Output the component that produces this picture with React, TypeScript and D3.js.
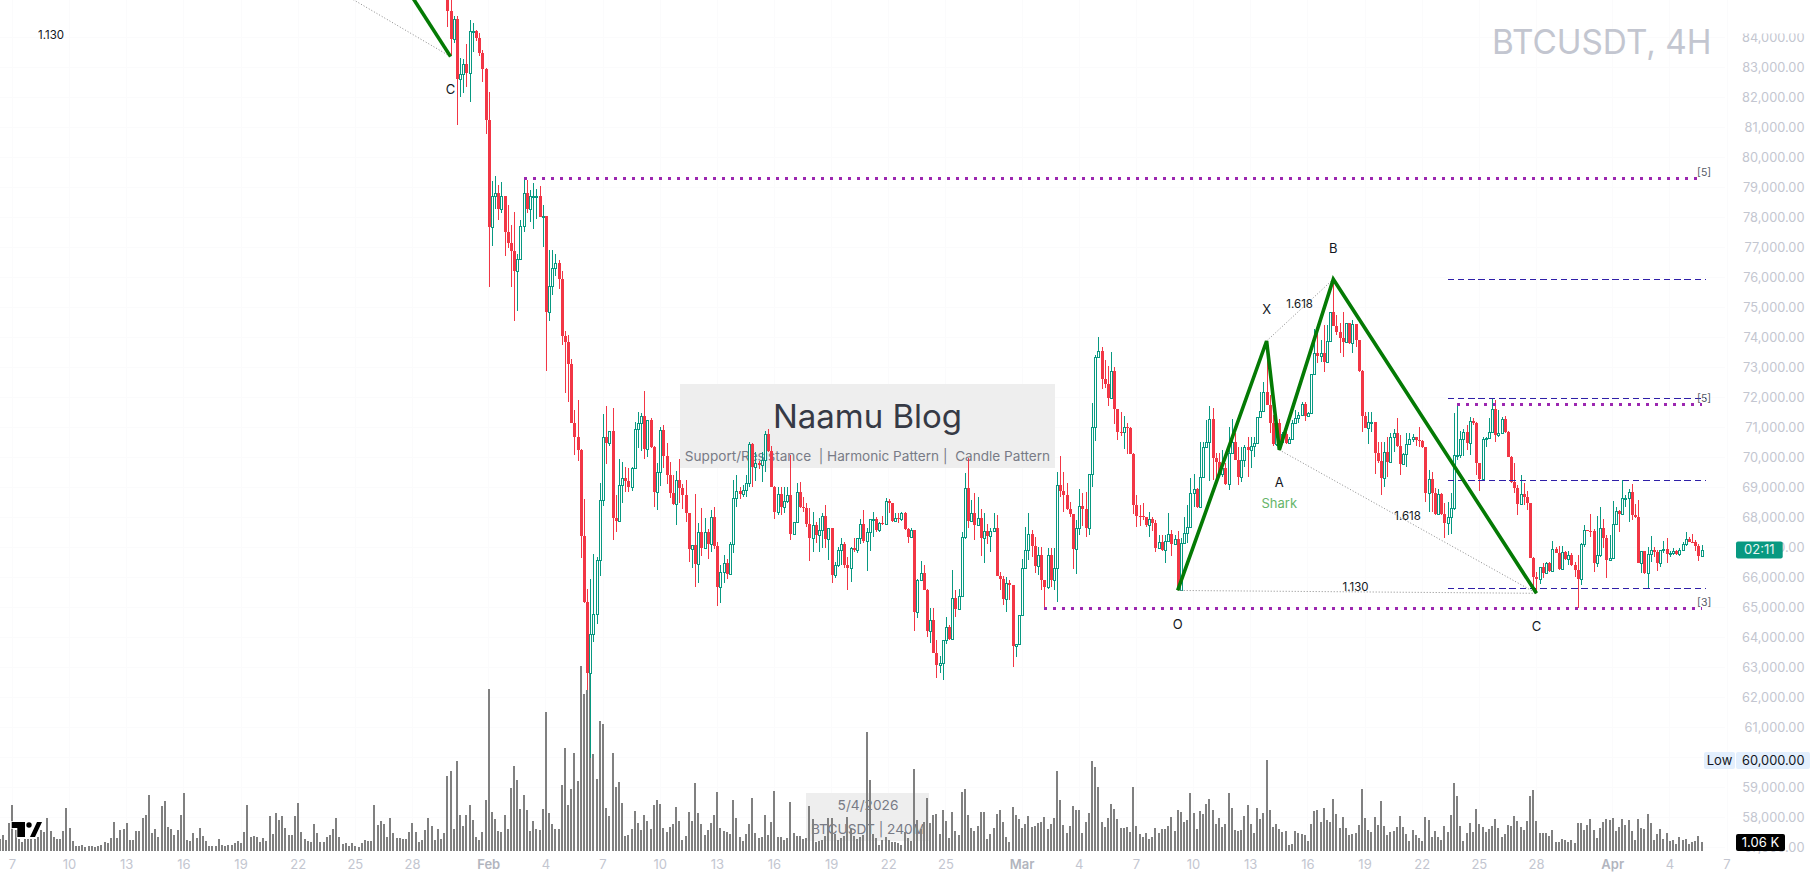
import * as d3 from 'd3'

const WIDTH = 1815
const HEIGHT = 879
const FONT = 'Inter, "Noto Sans", sans-serif'

const firstOpen = 85500

const closes = [
  84900, 83970, 84620, 82635, 82790, 83110, 82835, 84220, 84220, 83980,
  83500, 82970, 81260, 77700, 78720, 78810, 78290, 78720, 77530, 77150,
  76900, 76240, 76610, 77730, 78810, 78290, 78720, 78720, 78740, 78030,
  78070, 74870, 75720, 76335, 76480, 75970, 74070, 73870, 73110, 71170,
  70700, 70250, 67400, 65200, 62835, 64110, 64780, 66580, 68580, 70690,
  70500, 70880, 67990, 67890, 69080, 69310, 69220, 69030, 69650, 70960,
  71150, 71390, 70280, 71260, 70370, 68870, 69510, 70920, 70070, 69420,
  68830, 68470, 69260, 69000, 68760, 68150, 66970, 67080, 66450, 67510,
  67000, 67510, 67135, 68010, 67070, 65700, 66200, 66480, 66135, 67110,
  68650, 68890, 68800, 68920, 69150, 70460, 69700, 69810, 69760, 69920,
  70790, 70230, 69030, 68190, 68780, 68370, 68560, 68760, 67460, 67850,
  68850, 68370, 68340, 67780, 67320, 67750, 67420, 67590, 68060, 67300,
  67650, 66090, 66420, 66920, 67140, 66420, 66330, 66980, 66920, 67310,
  67780, 67220, 67510, 67950, 67950, 67590, 67810, 67800, 68550, 68480,
  67890, 67980, 67950, 68150, 67610, 67370, 67590, 64870, 65920, 66150,
  65590, 64235, 64590, 63500, 63090, 63145, 63920, 64370, 63970, 65310,
  64960, 65390, 67350, 68980, 67900, 68150, 67760, 67980, 67310, 67560,
  67400, 67570, 67670, 66070, 65950, 65300, 65810, 65760, 63735, 63780,
  64770, 66310, 66910, 67450, 67070, 66400, 66770, 65920, 65700, 66760,
  65920, 66310, 69090, 68900, 68760, 68290, 68110, 66960, 67670, 68390,
  68280, 67670, 69450, 71030, 73345, 73545, 72610, 72450, 72000, 72890,
  71610, 70870, 70850, 71010, 71000, 70120, 68430, 68070, 68060, 68010,
  67770, 67950, 67830, 66990, 67200, 66920, 67230, 67450, 67120, 67280,
  65590, 67150, 67480, 67700, 68810, 68950, 68370, 69370, 70360, 70510,
  71280, 69980, 69870, 69460, 69650, 69110, 70170, 70535, 69920, 69370,
  69920, 70370, 70260, 70390, 70480, 71350, 71570, 72200, 71760, 71150,
  70450, 71150, 70540, 70790, 70480, 70640, 71150, 71310, 71420, 71780,
  71400, 71500, 72780, 73500, 73390, 73500, 73200, 73900, 74870, 74390,
  74200, 73980, 73870, 74480, 73830, 74450, 73920, 72900, 71400, 70980,
  71180, 71180, 70150, 69890, 69340, 70200, 69870, 70700, 70810, 70390,
  69790, 70120, 70460, 70610, 70700, 70590, 70570, 70370, 68840, 69280,
  68810, 68120, 68790, 68120, 67810, 68030, 68310, 70090, 70100, 70610,
  70870, 70480, 71230, 71150, 69810, 69290, 70610, 70650, 70870, 71620,
  70760, 70810, 71280, 70870, 70030, 69200, 69000, 68460, 68780, 68700,
  68480, 66650, 66040, 65960, 66350, 66170, 66500, 66230, 66950, 66840,
  66290, 66850, 66610, 66760, 66420, 66260, 65950, 67110, 67590, 67570,
  67560, 66480, 66760, 67650, 67310, 66590, 66650, 67780, 68220, 68110,
  68650, 68650, 68850, 68090, 68030, 66500, 66880, 66150, 66780, 66920,
  66850, 66500, 66920, 66970, 66780, 66810, 66900, 66780, 66920, 67110,
  67290, 67200, 67180, 67070, 66740, 66920,
]

const highs = [
  85600, 85500, 84720, 84720, 83310, 83280, 83780, 84590, 84500, 84260,
  84150, 83590, 82980, 82180, 79220, 79390, 79090, 79190, 78720, 78420,
  77760, 78190, 76800, 77920, 79330, 79260, 78920, 79150, 78950, 79060,
  78420, 78070, 76920, 76920, 76790, 76590, 76235, 74220, 74090, 73290,
  71590, 71920, 70280, 68620, 65640, 65960, 66790, 66680, 69150, 71460,
  71720, 70880, 71650, 68750, 69960, 69860, 69680, 69650, 69680, 71180,
  71510, 71500, 72220, 71260, 71310, 70390, 69810, 71030, 71090, 70500,
  69870, 69440, 69570, 69960, 69140, 69260, 68170, 67080, 68790, 67810,
  68310, 67980, 67610, 68260, 68350, 67180, 66420, 66760, 66610, 67180,
  69260, 69420, 69030, 69090, 69420, 70540, 70500, 70200, 69890, 70200,
  70890, 70950, 70400, 69060, 69030, 69010, 69010, 69030, 70090, 67870,
  69170, 69190, 68700, 68480, 68310, 68180, 67870, 67980, 68150, 68420,
  67650, 67650, 66530, 67030, 67310, 67200, 66700, 67030, 67310, 67310,
  67950, 68260, 67650, 67950, 68200, 68030, 67870, 68060, 68650, 68610,
  68500, 68150, 68150, 68200, 68200, 67670, 67650, 67590, 65950, 66560,
  66420, 65620, 64980, 64980, 63920, 63390, 63920, 64680, 64420, 66260,
  65590, 65640, 67540, 69480, 69980, 68590, 68810, 68700, 68280, 68150,
  67790, 67650, 68150, 68090, 66200, 66060, 66030, 65920, 65760, 63780,
  64770, 66620, 67700, 68150, 67590, 67370, 67030, 67030, 65920, 66980,
  66980, 66980, 69540, 70060, 69530, 69170, 68530, 68110, 67920, 68950,
  68810, 68870, 69450, 71830, 73420, 74010, 73680, 73260, 73060, 73510,
  73010, 71610, 71510, 71390, 71150, 71010, 70150, 68760, 68420, 68500,
  68030, 68180, 68030, 67920, 67420, 67420, 67420, 68170, 67590, 67420,
  67570, 67310, 68010, 68420, 69310, 69460, 68980, 70530, 70530, 71260,
  71720, 71670, 70150, 70150, 70260, 69810, 71030, 71280, 70810, 70370,
  70370, 70420, 70700, 70700, 70700, 71350, 72200, 72510, 73890, 72090,
  71420, 71280, 71280, 70870, 70870, 70700, 71260, 71590, 71530, 71870,
  71870, 71530, 72780, 74280, 74420, 73920, 74420, 74420, 74870, 75920,
  74760, 74480, 74870, 74480, 74480, 74590, 74450, 73920, 72920, 71530,
  71530, 71530, 71150, 70530, 70530, 70530, 70700, 70810, 70950, 71310,
  70760, 70150, 70810, 70810, 70790, 70700, 71030, 70590, 70370, 69590,
  69530, 68980, 68950, 68810, 68480, 68530, 68810, 71480, 71810, 70900,
  70950, 71090, 71350, 71310, 71200, 69830, 70700, 70700, 71310, 71980,
  71920, 71590, 71350, 71390, 70890, 70060, 69810, 69090, 69420, 69150,
  68890, 68500, 66700, 66200, 66370, 66500, 66520, 66530, 67220, 67040,
  67070, 67070, 66900, 66900, 66810, 66530, 66760, 67150, 67760, 67600,
  68120, 67610, 68050, 68370, 67950, 67420, 67420, 68560, 68370, 68260,
  69260, 68760, 68950, 69120, 68460, 68590, 66900, 66880, 67030, 67390,
  67010, 66920, 66940, 67220, 67310, 66900, 66980, 66920, 66980, 67180,
  67510, 67370, 67460, 67260, 67110, 67090,
]

const lows = [
  84370, 83420, 83810, 81090, 82035, 82150, 82370, 81870, 83535, 83900,
  83390, 82535, 80790, 75700, 77060, 78280, 77920, 78150, 76730, 76980,
  75680, 74570, 74900, 76600, 77530, 78150, 77870, 77630, 77950, 78030,
  77035, 72900, 74570, 75420, 76060, 75635, 73756, 72145, 71870, 71150,
  70090, 69890, 66670, 65170, 62270, 60000, 63870, 64460, 66060, 68390,
  69790, 70400, 67250, 67540, 67890, 68480, 68870, 68870, 68900, 69650,
  70310, 70230, 69960, 70030, 70340, 68370, 68260, 69060, 69650, 69120,
  68650, 68440, 67760, 68500, 68280, 67850, 66540, 66320, 65700, 65835,
  66720, 66980, 66620, 66870, 66960, 65060, 65170, 65835, 65960, 66135,
  66835, 68370, 68620, 68700, 68700, 69030, 69030, 69225, 69610, 69200,
  69530, 70200, 69030, 67960, 68090, 68090, 68150, 68500, 67260, 67460,
  67810, 68310, 68200, 67700, 66560, 66850, 67150, 66850, 66980, 66980,
  66590, 65830, 65980, 66370, 66420, 66310, 65590, 65870, 66870, 66840,
  67140, 67150, 66220, 66890, 67370, 67530, 67530, 67770, 67810, 68150,
  67870, 67870, 67810, 67900, 67590, 67170, 67350, 64235, 64650, 65900,
  65590, 64010, 63810, 63480, 62670, 62810, 62590, 63780, 63920, 63920,
  64680, 64920, 65370, 67300, 67650, 67870, 67260, 67760, 66730, 66480,
  67140, 66850, 67530, 66070, 65590, 65090, 64870, 65260, 63010, 63350,
  63760, 64770, 66290, 66590, 66700, 66150, 66090, 65590, 64980, 65640,
  65700, 65590, 65200, 68700, 68200, 68260, 68030, 66290, 66120, 67420,
  67720, 67370, 67420, 69030, 70570, 73345, 72280, 72310, 71720, 72000,
  71120, 70590, 70720, 70280, 70110, 70120, 68120, 67700, 67720, 67920,
  67680, 67370, 67570, 66870, 66990, 66900, 66500, 67230, 66720, 67120,
  65590, 65590, 67150, 67150, 67700, 68370, 68310, 68370, 69370, 70340,
  69240, 69250, 69150, 69420, 69370, 69090, 68920, 70170, 69920, 69090,
  69200, 69700, 69370, 69650, 70030, 70460, 71310, 71540, 71760, 70830,
  70400, 70400, 70260, 70500, 70460, 70460, 70620, 71150, 71150, 71390,
  71240, 71370, 71480, 72760, 73150, 73200, 72870, 73150, 73870, 74390,
  74090, 73480, 73370, 73810, 73790, 73500, 73680, 72870, 70870, 70980,
  70460, 70870, 69450, 69810, 68760, 69030, 69370, 69870, 70200, 70370,
  69420, 69760, 69700, 70410, 70530, 70390, 70370, 70310, 68530, 68200,
  68200, 68090, 68090, 68090, 67340, 67420, 67460, 68260, 69920, 69980,
  70060, 70260, 70090, 71090, 69420, 68890, 69280, 70370, 70610, 70830,
  70530, 70700, 70810, 70830, 70010, 69170, 68810, 68090, 68420, 68420,
  68260, 66650, 65680, 65480, 65790, 65980, 66120, 66200, 66200, 66810,
  66260, 66260, 66590, 66420, 66400, 66040, 64980, 65760, 67030, 67560,
  67350, 66200, 66370, 66700, 66980, 65980, 66590, 66650, 67780, 67540,
  68110, 68370, 67870, 67920, 67980, 66480, 66170, 66120, 65650, 66530,
  66700, 66230, 66370, 66810, 66480, 66700, 66760, 66760, 66740, 66890,
  67070, 67180, 67150, 66890, 66560, 66740,
]

// the Feb 1 candle is bar 0, so the first drawn candle sits at bar -13
const firstBar = -13

const volumes = [
  1440, 1920, 1320, 3320, 5520, 2520, 1440, 1040, 1440, 1440, 1440, 1440, 1720, 2520, 2280, 3960, 2400, 1680, 1440, 1440,
  2400, 5160, 2760, 1200, 600, 600, 720, 480, 600, 600, 480, 600, 720, 1080, 960, 1560, 3480, 1560, 2520, 2640,
  3360, 1320, 1320, 2400, 2400, 3960, 4320, 6720, 2160, 2640, 1680, 5400, 6000, 2880, 2640, 1920, 2520, 4320, 6960, 1320,
  1200, 2160, 1560, 2760, 1800, 1200, 600, 600, 600, 1440, 720, 600, 720, 720, 960, 1200, 960, 2280, 5520, 1680,
  1800, 1680, 1080, 1560, 1200, 4200, 2040, 4560, 3720, 4200, 2760, 1920, 1920, 4200, 5760, 2280, 1440, 1200, 1080, 3240,
  2160, 1080, 1080, 1680, 1920, 2640, 3960, 1680, 840, 960, 600, 960, 600, 480, 960, 1320, 1200, 1200, 5520, 3120,
  3600, 3240, 1680, 3960, 2160, 1560, 1560, 1440, 1440, 2280, 3360, 2280, 1080, 1320, 2520, 3960, 3000, 1320, 2640, 1440,
  2160, 9000, 9600, 2640, 10800, 4320, 3000, 4320, 5520, 3720, 1680, 1320, 2280, 6120, 19440, 4680, 3840, 2400,
  2280, 4320, 2640, 7560, 10200, 8520, 5040, 6720, 4920, 2400, 3600, 2640, 2520, 5040, 16680, 4560, 3240, 2640, 2640, 7920,
  12360, 5520, 7440, 11760, 8400, 22200, 18840, 19320, 25560, 11640, 8640, 15600, 15240, 5160, 4200, 11760, 7680, 8280, 5760, 1800,
  1920, 2640, 4800, 3360, 2520, 4320, 3600, 2640, 5520, 6120, 5640, 2760, 2280, 2880, 3240, 5280, 3600, 1320, 1800, 4680,
  3600, 8160, 4560, 3240, 1920, 2520, 3360, 4320, 7080, 2760, 2400, 2280, 2040, 6120, 3960, 1680, 1200, 2040, 3240, 6360,
  2160, 1560, 1680, 4320, 1920, 3480, 7200, 1680, 1680, 1320, 1560, 5880, 2160, 1800, 1800, 1440, 1560, 5400, 3840, 1080,
  1200, 1320, 1800, 3960, 3960, 2040, 1320, 1560, 1800, 4080, 2760, 1800, 1440, 1680, 1920, 14280, 8520, 2040, 1560, 720,
  1320, 1680, 1320, 1080, 1080, 960, 720, 2280, 1560, 1200, 9840, 3720, 2640, 3480, 6360, 3360, 4320, 4440, 2040, 4920,
  3600, 1560, 4680, 2400, 1920, 7080, 7440, 4320, 2760, 2400, 3000, 4680, 4680, 1440, 2040, 2760, 4440,
  4920, 3480, 1680, 1080, 5280, 4320, 3840, 2760, 3240, 4200, 2880, 3000, 3360, 3480, 4080, 2640, 3240, 3960, 9600, 6120,
  3120, 2160, 3000, 5400, 4920, 4920, 2160, 3480, 4560, 10800, 10080, 7680, 3480, 2880, 3960, 5640, 5040, 3840, 2760, 2760,
  2880, 2280, 7680, 3000, 2040, 1680, 2160, 1440, 1680, 2760, 2160, 2640, 2640, 3000, 4080, 2400, 4920, 4680, 3480, 3720,
  6960, 4560, 2640, 4800, 4440, 5640, 6240, 4920, 3240, 3960, 2880, 3240, 6960, 5160, 2520, 2400, 2520, 4200, 5520, 3240,
  2160, 5160, 3840, 4560, 10920, 4920, 2880, 3240, 2640, 2280, 2400, 720, 840, 2400, 2160, 2040, 1920, 1200, 3240, 4800,
  4920, 3480, 5160, 3720, 3480, 6240, 4440, 2760, 4080, 2760, 1920, 2040, 2160, 3120, 7440, 3960, 2520, 2280, 4080, 3120,
  6000, 3000, 1920, 2280, 2400, 2880, 4200, 2880, 2040, 1200, 2520, 1920, 1560, 1200, 4080, 3720, 1680, 2400, 1680, 1320,
  3000, 2280, 4320, 8160, 6600, 3000, 1200, 2160, 3360, 2280, 5040, 3240, 2880, 2280, 2640, 3000, 3840, 2760,
  1720, 2040, 3120, 3000, 4200, 3600, 2880, 2520, 3600, 6600, 7320, 3600, 2160, 2160, 2160, 1800, 2520, 1080, 1080, 1440,
  1320, 1080, 1320, 960, 3360, 3360, 2520, 3120, 3840, 2520, 1560, 2760, 3480, 3840, 3720, 3960, 2400, 2880, 3840, 3120,
  3720, 2400, 1320, 3840, 2760, 2640, 4440, 3360, 1320, 2040, 2640, 1440, 2160, 1200, 1320, 840, 1680, 1320, 1440, 840,
  1080, 1200, 1800, 1060,
]

const priceTicks = d3.range(84000, 56999, -1000)
const timeTickBars = [
  -150, -132, -114, -96, -78, -60, -42, -24, 0, 18, 36, 54, 72, 90, 108, 126, 144, 168, 186, 204, 222, 240, 258, 276, 294,
  312, 330, 354, 372, 390,
]
const timeTickLabels = [
  '7', '10', '13', '16', '19', '22', '25', '28', 'Feb', '4', '7', '10', '13', '16', '19', '22', '25', 'Mar', '4', '7', '10',
  '13', '16', '19', '22', '25', '28', 'Apr', '4', '7',
]

// harmonic pattern legs, [bar, price]
const patternLegs: Array<[number, number]> = [
  [217, 65575],
  [245, 73890],
  [249, 70260],
  [266, 75950],
  [330, 65480],
]
const earlierLeg: Array<[number, number]> = [
  [-28, 86000],
  [-12, 83370],
]
const dottedLegs: Array<Array<[number, number]>> = [
  [[-50, 85723], [-12, 83370]],
  [[245, 73890], [266, 75950]],
  [[249, 70260], [330, 65480]],
  [[217, 65575], [330, 65480]],
]

const purpleLevels = [
  { from: 11, to: 382, price: 79310, tag: '[5]' },
  { from: 305, to: 382, price: 71790, tag: '[5]' },
  { from: 175, to: 382, price: 64980, tag: '[3]' },
]
const blueLevels = [75950, 71980, 69250, 65650]

const x = d3.scaleLinear().domain([0, 382]).range([488.7, 1701.6])
const y = d3.scaleLinear().domain([84000, 60000]).range([37.7, 757.7])
const volH = d3.scaleLinear().domain([0, 120]).range([0, 1])

const VOL_BASE = 851
const snap = (v: number) => Math.round(v)

const legLine = d3
  .line<[number, number]>()
  .x((d) => x(d[0]))
  .y((d) => y(d[1]))

const GREEN = '#089981'
const RED = '#f23645'
const AXIS = '#c3c6d0'

const chartLabels = [
  { text: 'C', bar: -12, price: 82280, size: 13, fill: '#131722' },
  { text: 'X', bar: 245, price: 74950, size: 13, fill: '#131722' },
  { text: 'B', bar: 266, price: 76985, size: 13, fill: '#131722' },
  { text: 'A', bar: 249, price: 69170, size: 13, fill: '#131722' },
  { text: 'Shark', bar: 249, price: 68480, size: 13, fill: '#66b56a' },
  { text: 'O', bar: 217, price: 64440, size: 13, fill: '#131722' },
  { text: 'C', bar: 330, price: 64370, size: 13, fill: '#131722' },
  { text: '1.618', bar: 255.4, price: 75130, size: 11.5, fill: '#131722' },
  { text: '1.618', bar: 289.4, price: 68070, size: 11.5, fill: '#131722' },
  { text: '1.130', bar: 273, price: 65680, size: 11.5, fill: '#131722' },
]

export default function App() {
  const candles = closes.map((close, i) => {
    const open = i === 0 ? firstOpen : closes[i - 1]
    return { bar: firstBar + i, open, close, high: highs[i], low: lows[i] }
  })
  const lastBar = firstBar + closes.length - 1
  const lastClose = closes[closes.length - 1]

  return (
    <svg
      width={WIDTH}
      height={HEIGHT}
      viewBox={`0 0 ${WIDTH} ${HEIGHT}`}
      style={{ position: 'fixed', left: 0, top: 0, background: '#fff', fontFamily: FONT }}
    >
      {/* grid, nearly invisible */}
      <g stroke="#fbfbfc" strokeWidth={1} shapeRendering="crispEdges">
        {priceTicks.map((p) => (
          <line key={p} x1={0} x2={1725} y1={y(p)} y2={y(p)} />
        ))}
        {timeTickBars.map((b) => (
          <line key={b} x1={x(b)} x2={x(b)} y1={0} y2={851} />
        ))}
      </g>

      {/* watermark boxes */}
      <rect x={680} y={384} width={375} height={84} fill="#eeeeee" />
      <text x={867.5} y={428} textAnchor="middle" fontSize={33} fill="#363a45">
        Naamu Blog
      </text>
      <text x={867.5} y={461} textAnchor="middle" fontSize={13.6} fill="#787b86" xmlSpace="preserve">
        Support/Resistance  | Harmonic Pattern |  Candle Pattern
      </text>
      <rect x={806} y={793} width={123} height={48} fill="#eeeeee" />
      <text x={868} y={810} textAnchor="middle" fontSize={13.7} fill="#787b86">
        5/4/2026
      </text>
      <text x={868} y={834} textAnchor="middle" fontSize={13.7} fill="#787b86">
        BTCUSDT | 240M
      </text>

      {/* volume */}
      <g fill="#808080" shapeRendering="crispEdges">
        {volumes.map((v, i) => {
          const bar = lastBar - (volumes.length - 1 - i)
          const h = volH(v)
          return <rect key={i} x={snap(x(bar)) - 1} y={VOL_BASE - h} width={2} height={h} />
        })}
      </g>

      {/* candles */}
      <g shapeRendering="crispEdges">
        {candles.map((c) => {
          const cx = snap(x(c.bar))
          const up = c.close >= c.open
          const color = up ? GREEN : RED
          const top = y(Math.max(c.open, c.close))
          const bottom = y(Math.min(c.open, c.close))
          return (
            <g key={c.bar}>
              <rect x={cx} y={y(c.high)} width={1} height={Math.max(1, y(c.low) - y(c.high))} fill={color} />
              {up ? (
                <rect
                  x={cx - 0.5}
                  y={snap(top) + 0.5}
                  width={2}
                  height={Math.max(1, snap(bottom) - snap(top))}
                  fill="#fff"
                  stroke={color}
                  strokeWidth={1}
                />
              ) : (
                <rect x={cx - 1} y={snap(top)} width={3} height={Math.max(1, snap(bottom) - snap(top))} fill={color} />
              )}
            </g>
          )
        })}
      </g>

      {/* support and resistance */}
      {blueLevels.map((p) => (
        <line
          key={p}
          x1={x(302)}
          x2={x(383.4)}
          y1={y(p)}
          y2={y(p)}
          stroke="#2f1fa8"
          strokeWidth={1}
          strokeDasharray="6.5 3.8"
          shapeRendering="crispEdges"
        />
      ))}
      {purpleLevels.map((l) => (
        <g key={l.price}>
          <line
            x1={x(l.from)}
            x2={x(l.to)}
            y1={y(l.price)}
            y2={y(l.price)}
            stroke="#9c27b0"
            strokeWidth={3}
            strokeDasharray="3 6"
            shapeRendering="crispEdges"
          />
          <text x={x(l.to) - 4.5} y={y(l.price) - 2} fontSize={10.5} fill="#555a66">
            {l.tag}
          </text>
        </g>
      ))}

      {/* pattern */}
      {dottedLegs.map((leg, i) => (
        <path key={i} d={legLine(leg) ?? undefined} fill="none" stroke="#8a8a8a" strokeWidth={1} strokeDasharray="1 2" />
      ))}
      <path d={legLine(patternLegs) ?? undefined} fill="none" stroke="#047a04" strokeWidth={3.6} strokeLinejoin="miter" />
      <path d={legLine(earlierLeg) ?? undefined} fill="none" stroke="#047a04" strokeWidth={3.6} />
      <text x={51} y={36} textAnchor="middle" dominantBaseline="middle" fontSize={11.5} fill="#131722">
        1.130
      </text>
      {chartLabels.map((l, i) => (
        <text
          key={i}
          x={x(l.bar)}
          y={y(l.price) + 1}
          textAnchor="middle"
          dominantBaseline="middle"
          fontSize={l.size}
          fill={l.fill}
        >
          {l.text}
        </text>
      ))}

      {/* price axis */}
      <text x={1711.5} y={54} textAnchor="end" fontSize={33.3} fill={AXIS}>
        BTCUSDT, 4H
      </text>
      <g fontSize={12.8} fill={AXIS} textAnchor="end">
        {priceTicks.map((p) => (
          <text key={p} x={1804.5} y={y(p) + 1} dominantBaseline="middle">
            {d3.format(',.2f')(p)}
          </text>
        ))}
      </g>
      <rect x={1740} y={0} width={75} height={33.5} fill="#fff" />
      <rect x={1704} y={752} width={31} height={17} rx={2} fill="#e3effd" />
      <rect x={1736} y={752} width={74} height={17} rx={2} fill="#e3effd" />
      <text x={1719.5} y={761} textAnchor="middle" dominantBaseline="middle" fontSize={13} fill="#131722">
        Low
      </text>
      <text x={1804.5} y={761} textAnchor="end" dominantBaseline="middle" fontSize={12.8} fill="#131722">
        {d3.format(',.2f')(60000)}
      </text>
      <rect x={1736} y={y(lastClose) - 8.7} width={46.7} height={17} rx={2} fill={GREEN} />
      <text x={1759.3} y={y(lastClose) + 0.5} textAnchor="middle" dominantBaseline="middle" fontSize={13} fill="#e8f5f2">
        02:11
      </text>
      <rect x={1736} y={834} width={49} height={17} rx={2} fill="#000" />
      <text x={1760.5} y={843} textAnchor="middle" dominantBaseline="middle" fontSize={13} fill="#fff">
        1.06 K
      </text>

      {/* time axis */}
      <g fontSize={13} textAnchor="middle">
        {timeTickLabels.map((t, i) => {
          const month = t === 'Feb' || t === 'Mar' || t === 'Apr'
          return (
            <text
              key={i}
              x={x(timeTickBars[i])}
              y={865.7}
              dominantBaseline="middle"
              fill={month ? '#b2b5be' : AXIS}
              fontWeight={month ? 600 : 400}
            >
              {t}
            </text>
          )
        })}
      </g>

      {/* TradingView logo */}
      <g fill="#000" stroke="#fff" strokeWidth={1.5} paintOrder="stroke">
        <path d="M11.7 822H25V837H17.3V828H11.7Z" />
        <circle cx={29} cy={825} r={2.7} />
        <path d="M30 837L37 822H42L35 837Z" />
      </g>
    </svg>
  )
}
